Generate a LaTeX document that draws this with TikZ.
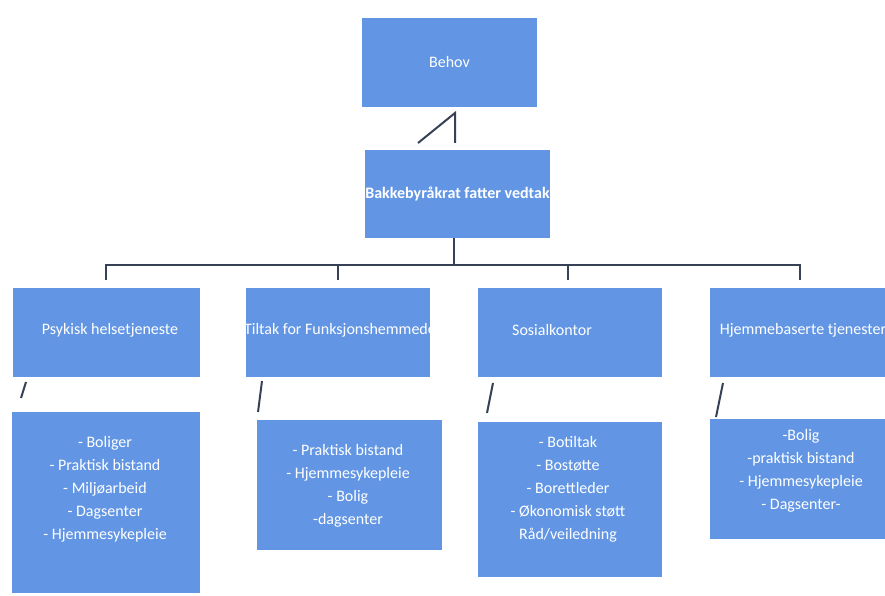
\documentclass[tikz,border=0pt]{standalone}
\usepackage{fontspec}
\setmainfont{Carlito}
\definecolor{boxblue}{RGB}{98,150,228}
\definecolor{linec}{RGB}{55,65,85}
\begin{document}
\begin{tikzpicture}[x=1pt,y=-1pt,
  box/.style={draw=none,fill=boxblue,rectangle,inner sep=0pt},
  txt/.style={text=white,font=\fontsize{16}{23}\selectfont,inner sep=0pt},
  lst/.style={txt,align=center},
  conn/.style={draw=linec,line width=2pt}]
\useasboundingbox (0,0) rectangle (885,596);
% top
\node[box,minimum width=175pt,minimum height=89pt] (behov) at (449.5,62.5) {};
\node[txt] (tbehov) at (449.5,62) {Behov};
\node[box,minimum width=185pt,minimum height=88pt] (bakk) at (457.5,194) {};
\node[txt,font=\fontsize{16}{23}\selectfont\bfseries] (tbakk) at (457.5,194) {Bakkebyråkrat fatter vedtak};
% level 2
\node[box,minimum width=187pt,minimum height=89pt] (b1) at (106.5,332.5) {};
\node[box,minimum width=184pt,minimum height=89pt] (b2) at (338,332.5) {};
\node[box,minimum width=184pt,minimum height=89pt] (b3) at (570,332.5) {};
\node[box,minimum width=175pt,minimum height=89pt] (b4) at (797.5,332.5) {};
\node[txt] (t1) at (110,330) {Psykisk helsetjeneste};
\begin{scope}
\clip (b2.south west) rectangle (b2.north east);
\node[txt] (t2) at (340,330) {Tiltak for Funksjonshemmede};
\end{scope}
\node[txt,anchor=west] (t3) at (512,330) {Sosialkontor};
\node[txt] (t4) at (803,330) {Hjemmebaserte tjenester};
% level 3
\node[box,minimum width=188pt,minimum height=181pt] (c1) at (106,502.5) {};
\node[box,minimum width=185pt,minimum height=130pt] (c2) at (349.5,485) {};
\node[box,minimum width=184pt,minimum height=155pt] (c3) at (570,499.5) {};
\node[box,minimum width=175pt,minimum height=120pt] (c4) at (797.5,479) {};
\node[lst] (l1) at (105,489) {- Boliger\\- Praktisk bistand\\- Miljøarbeid\\- Dagsenter\\- Hjemmesykepleie};
\node[lst] (l2) at (348,486) {- Praktisk bistand\\- Hjemmesykepleie\\- Bolig\\-dagsenter};
\node[lst] (l3) at (568,489) {- Botiltak\\- Bostøtte\\- Borettleder\\- Økonomisk støtt\\Råd/veiledning};
\node[lst] (l4) at (801,471) {-Bolig\\-praktisk bistand\\- Hjemmesykepleie\\- Dagsenter-};
% connectors top
\coordinate (k1) at (418,143);
\coordinate (k2) at (455,113);
\coordinate (k3) at (455,143);
\draw[conn] (k1) -- (k2) -- (k3);
% bus
\coordinate (s0) at (454,238);
\coordinate (s1) at (454,265);
\coordinate (h1) at (106,265);
\coordinate (h2) at (338,265);
\coordinate (h3) at (568,265);
\coordinate (h4) at (800,265);
\coordinate (d1) at (106,280);
\coordinate (d2) at (338,280);
\coordinate (d3) at (568,280);
\coordinate (d4) at (800,280);
\draw[conn] (s0) -- (s1);
\draw[conn] (d1) -- (h1) -- (h4) -- (d4);
\draw[conn] (h2) -- (d2);
\draw[conn] (h3) -- (d3);
% slanted marks
\coordinate (m1a) at (21,398); \coordinate (m1b) at (26,382);
\coordinate (m2a) at (258,412); \coordinate (m2b) at (262,381);
\coordinate (m3a) at (487,413); \coordinate (m3b) at (493,383);
\coordinate (m4a) at (716,417); \coordinate (m4b) at (723,383);
\draw[conn] (m1a) -- (m1b);
\draw[conn] (m2a) -- (m2b);
\draw[conn] (m3a) -- (m3b);
\draw[conn] (m4a) -- (m4b);
\end{tikzpicture}
\end{document}
